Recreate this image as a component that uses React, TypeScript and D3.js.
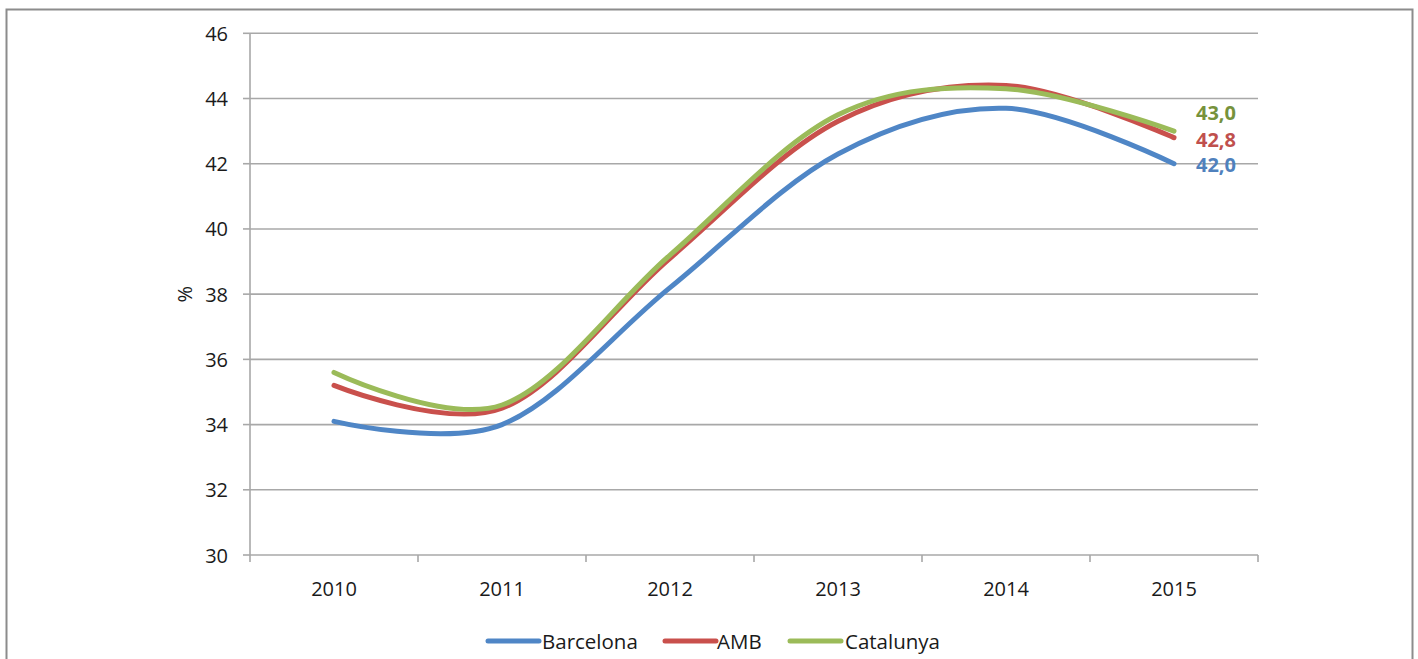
import React from "react";
import * as d3 from "d3";

const years = ["2010", "2011", "2012", "2013", "2014", "2015"];
const barcelona = [34.1, 34.0, 38.2, 42.3, 43.7, 42.0];
const amb = [35.2, 34.5, 39.1, 43.3, 44.4, 42.8];
const catalunya = [35.6, 34.6, 39.2, 43.5, 44.3, 43.0];
const yTicks = [30, 32, 34, 36, 38, 40, 42, 44, 46];
const seriesNames = ["Barcelona", "AMB", "Catalunya"];
const lastLabels = ["42,0", "42,8", "43,0"];

const W = 1418;
const H = 659;
const FONT = "'Open Sans', 'DejaVu Sans', sans-serif";

export default function App() {
  const left = 250, right = 1258, top = 33.3, bottom = 555;
  const x = d3.scaleBand<string>().domain(years).range([left, right]).paddingInner(0).paddingOuter(0);
  const y = d3.scaleLinear().domain([30, 46]).range([bottom, top]);
  const cx = (yr: string) => (x(yr) as number) + x.bandwidth() / 2;

  const series = [
    { name: seriesNames[0], values: barcelona, color: "#4F86C6", text: "#4F81BD", label: lastLabels[0], dy: 1 },
    { name: seriesNames[1], values: amb, color: "#C9504C", text: "#C0504D", label: lastLabels[1], dy: 2 },
    { name: seriesNames[2], values: catalunya, color: "#9BBB59", text: "#76923C", label: lastLabels[2], dy: -19 },
  ];

  const line = d3
    .line<number>()
    .x((_, i) => cx(years[i]))
    .y((v) => y(v))
    .curve(d3.curveCardinal.tension(0));

  const grid = "#A8A8A8";
  const boundaries = [...years.map((yr) => x(yr) as number), right];

  const legendItems = [
    { lx: 488, tx: 542 },
    { lx: 665, tx: 717 },
    { lx: 790, tx: 845 },
  ];

  return (
    <svg
      width={W}
      height={H}
      style={{ position: "absolute", left: 0, top: 0, background: "#fff" }}
      fontFamily={FONT}
    >
      <rect x={6.5} y={9.5} width={1406} height={720} fill="#fff" stroke="#8C8C8C" strokeWidth={2} />

      {yTicks.map((t) => (
        <g key={t}>
          {t !== 30 && <line x1={left} x2={right} y1={y(t)} y2={y(t)} stroke={grid} strokeWidth={1.6} />}
          <line x1={left - 7} x2={left} y1={y(t)} y2={y(t)} stroke={grid} strokeWidth={1.6} />
          <text x={228} y={y(t)} textAnchor="end" dominantBaseline="central" fontSize={20} fill="#1a1a1a">
            {t}
          </text>
        </g>
      ))}

      <line x1={left} x2={left} y1={top} y2={bottom} stroke={grid} strokeWidth={1.6} />
      <line x1={left} x2={right} y1={bottom} y2={bottom} stroke={grid} strokeWidth={1.6} />
      {boundaries.map((b, i) => (
        <line key={i} x1={b} x2={b} y1={bottom} y2={bottom + 7} stroke={grid} strokeWidth={1.6} />
      ))}
      {years.map((yr) => (
        <text key={yr} x={cx(yr)} y={588} textAnchor="middle" dominantBaseline="central" fontSize={20} fill="#1a1a1a">
          {yr}
        </text>
      ))}

      <text
        transform={`translate(184, ${(top + bottom) / 2}) rotate(-90)`}
        textAnchor="middle"
        dominantBaseline="central"
        fontSize={20}
        fill="#1a1a1a"
      >
        %
      </text>

      {series.map((s) => (
        <path key={s.name} d={line(s.values) as string} fill="none" stroke={s.color} strokeWidth={5} strokeLinecap="round" />
      ))}

      {series.map((s) => (
        <text
          key={s.name + "-lbl"}
          x={cx(years[years.length - 1]) + 22}
          y={y(s.values[s.values.length - 1]) + s.dy}
          dominantBaseline="central"
          fontSize={20}
          fontWeight="bold"
          fill={s.text}
        >
          {s.label}
        </text>
      ))}

      {series.map((s, i) => (
        <g key={s.name + "-leg"}>
          <line x1={legendItems[i].lx} x2={legendItems[i].lx + 51} y1={641} y2={641} stroke={s.color} strokeWidth={5} strokeLinecap="round" />
          <text x={legendItems[i].tx} y={641} dominantBaseline="central" fontSize={20.5} fill="#1a1a1a">
            {s.name}
          </text>
        </g>
      ))}
    </svg>
  );
}
